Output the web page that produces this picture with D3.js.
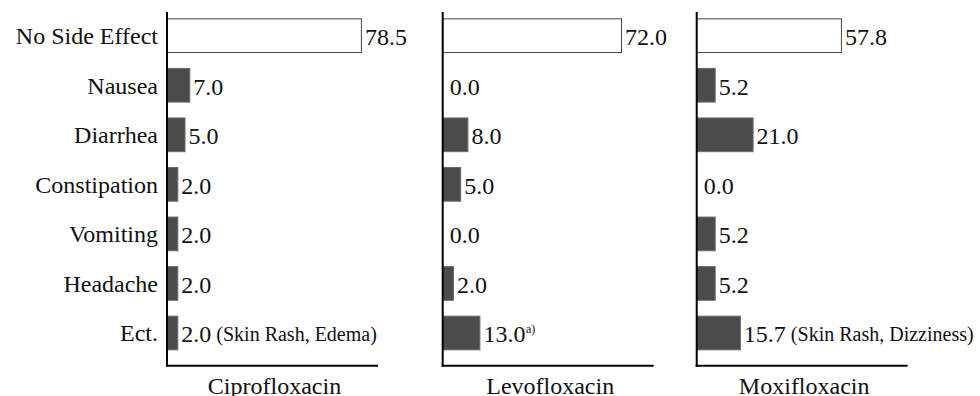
<!DOCTYPE html>
<html>
<head>
<meta charset="utf-8">
<script src="https://cdn.jsdelivr.net/npm/d3@7"></script>
<style>
  html, body { margin: 0; padding: 0; background: #ffffff; }
  svg { display: block; }
  text { font-family: "Liberation Serif", "Times New Roman", serif; fill: #111; }
</style>
</head>
<body>
<svg id="chart" width="980" height="396"></svg>
<script>
// ---- data ----
const categories = ["No Side Effect", "Nausea", "Diarrhea", "Constipation", "Vomiting", "Headache", "Ect."];
const drugs = ["Ciprofloxacin", "Levofloxacin", "Moxifloxacin"];
const ciprofloxacin = [78.5, 7.0, 5.0, 2.0, 2.0, 2.0, 2.0];
const levofloxacin  = [72.0, 0.0, 8.0, 5.0, 0.0, 2.0, 13.0];
const moxifloxacin  = [57.8, 5.2, 21.0, 0.0, 5.2, 5.2, 15.7];
const ectNotes = ["(Skin Rash, Edema)", "", "(Skin Rash, Dizziness)"];
const ectMarks = ["", "a)", ""];

const seriesList = [ciprofloxacin, levofloxacin, moxifloxacin];

// ---- layout ----
const panelX = [167, 442.7, 696.7];
const axisTop = 12, axisBottom = 365.7, baseLen = 211;

const svg = d3.select("#chart");

const y = d3.scaleBand()
  .domain(categories)
  .range([3, axisBottom])
  .paddingInner(0.32)
  .paddingOuter(0.32);

const x = d3.scaleLinear().domain([0, 80]).range([6, 198]);

seriesList.forEach((vals, pi) => {
  const g = svg.append("g").attr("transform", `translate(${panelX[pi]},0)`);
  const rows = categories.map((c, i) => ({ cat: c, v: vals[i], i }));

  // bars
  g.selectAll("rect.bar")
    .data(rows.filter(d => d.v > 0))
    .join("rect")
    .attr("class", "bar")
    .attr("x", 0)
    .attr("y", d => y(d.cat))
    .attr("width", d => x(d.v))
    .attr("height", y.bandwidth())
    .attr("fill", d => d.i === 0 ? "#ffffff" : "#4b4b4b")
    .attr("stroke", d => d.i === 0 ? "#444" : "#6a6a6a")
    .attr("stroke-width", 1);

  // value labels
  const labels = g.selectAll("text.val")
    .data(rows)
    .join("text")
    .attr("class", "val")
    .attr("x", d => d.v > 0 ? x(d.v) + 3.5 : x(0) + 1)
    .attr("y", d => y(d.cat) + y.bandwidth() / 2)
    .attr("dy", 9.5)
    .style("font-size", "24px")
    .text(d => d.v.toFixed(1));

  // Ect. annotation
  const last = rows[rows.length - 1];
  const lastNode = labels.filter(d => d.i === rows.length - 1);
  const w = lastNode.node().getComputedTextLength();
  const lx = (last.v > 0 ? x(last.v) + 3.5 : x(0) + 1) + w;
  const ly = y(last.cat) + y.bandwidth() / 2 + 9.5;
  if (ectNotes[pi]) {
    g.append("text")
      .attr("x", lx + 5)
      .attr("y", ly - 1.5)
      .style("font-size", "20px")
      .text(ectNotes[pi]);
  }
  if (ectMarks[pi]) {
    g.append("text")
      .attr("x", lx + 0.5)
      .attr("y", ly - 9)
      .style("font-size", "12px")
      .text(ectMarks[pi]);
  }

  // axes lines
  g.append("line")
    .attr("x1", 0).attr("x2", 0)
    .attr("y1", axisTop).attr("y2", axisBottom + 1)
    .attr("stroke", "#000").attr("stroke-width", 2);
  g.append("line")
    .attr("x1", -1).attr("x2", baseLen)
    .attr("y1", axisBottom).attr("y2", axisBottom)
    .attr("stroke", "#000").attr("stroke-width", 2);

  // drug title
  g.append("text")
    .attr("x", baseLen / 2 + 2)
    .attr("y", 394)
    .attr("text-anchor", "middle")
    .style("font-size", "24px")
    .text(drugs[pi]);

  // category axis on first panel
  if (pi === 0) {
    const ax = g.append("g")
      .call(d3.axisLeft(y).tickSize(0).tickPadding(9));
    ax.select(".domain").remove();
    ax.selectAll("text")
      .style("font-size", "24px")
      .style("font-family", "'Liberation Serif', 'Times New Roman', serif")
      .attr("fill", "#111")
      .attr("dy", 8.5);
  }
});
</script>
</body>
</html>
